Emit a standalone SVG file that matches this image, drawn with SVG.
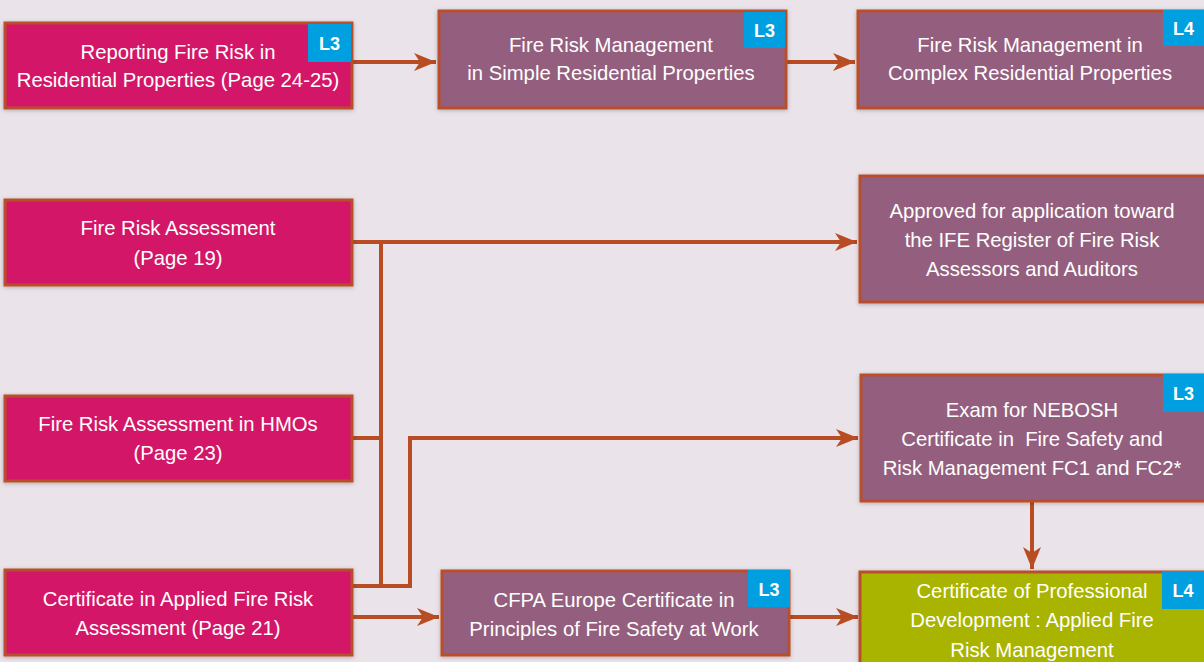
<svg xmlns="http://www.w3.org/2000/svg" width="1204" height="662" viewBox="0 0 1204 662">
<defs>
<style>
.box{stroke:#b9502a;stroke-width:3;filter:url(#sh)}
.mag{fill:#d41367}
.pur{fill:#945f7e}
.grn{fill:#a8b400}
.badge{fill:#009fe0}
.t{font-family:"Liberation Sans",Arial,sans-serif;font-size:20.3px;fill:#ffffff;text-anchor:middle}
.b{font-family:"Liberation Sans",Arial,sans-serif;font-size:18px;font-weight:bold;fill:#ffffff;text-anchor:middle}
.c{fill:none;stroke:#b84c22;stroke-width:4}
</style>
<filter id="sh" x="-5%" y="-5%" width="110%" height="115%">
<feDropShadow dx="0" dy="1" stdDeviation="2" flood-color="#000" flood-opacity="0.25"/>
</filter>
<marker id="ah" markerUnits="userSpaceOnUse" markerWidth="24" markerHeight="18" refX="22" refY="9" orient="auto">
<path d="M0,0 L22,9 L0,18 L6,9 Z" fill="#b84c22"/>
</marker>
</defs>
<rect width="1204" height="662" fill="#ebe3ea"/>

<g id="connectors">
<line class="c" x1="353" y1="62" x2="436" y2="62" marker-end="url(#ah)"/>
<line class="c" x1="786" y1="62" x2="855" y2="62" marker-end="url(#ah)"/>
<line class="c" x1="353" y1="242" x2="857" y2="242" marker-end="url(#ah)"/>
<line class="c" x1="381" y1="242" x2="381" y2="587"/>
<line class="c" x1="353" y1="438" x2="381" y2="438"/>
<polyline class="c" points="353,586 410,586 410,438 858,438" marker-end="url(#ah)"/>
<line class="c" x1="353" y1="617" x2="439" y2="617" marker-end="url(#ah)"/>
<line class="c" x1="790" y1="617" x2="858" y2="617" marker-end="url(#ah)"/>
<line class="c" x1="1032" y1="501" x2="1032" y2="569" marker-end="url(#ah)"/>
</g>

<g id="n1">
<rect class="box mag" x="5" y="23" width="347" height="85"/>
<rect class="badge" x="308" y="24" width="43" height="38"/>
<text class="b" x="329.5" y="50">L3</text>
<text class="t" x="178" y="59">Reporting Fire Risk in</text>
<text class="t" x="178" y="87">Residential Properties (Page 24-25)</text>
</g>

<g id="n2">
<rect class="box pur" x="439" y="11" width="347" height="97"/>
<rect class="badge" x="744" y="12" width="41" height="36"/>
<text class="b" x="764.5" y="37">L3</text>
<text class="t" x="611" y="52">Fire Risk Management</text>
<text class="t" x="611" y="80">in Simple Residential Properties</text>
</g>

<g id="n3">
<rect class="box pur" x="858" y="11" width="348" height="97"/>
<rect class="badge" x="1163" y="10" width="41" height="36"/>
<text class="b" x="1183.5" y="35">L4</text>
<text class="t" x="1030" y="52">Fire Risk Management in</text>
<text class="t" x="1030" y="80">Complex Residential Properties</text>
</g>

<g id="n4">
<rect class="box mag" x="5" y="200" width="347" height="85"/>
<text class="t" x="178" y="235">Fire Risk Assessment</text>
<text class="t" x="178" y="265">(Page 19)</text>
</g>

<g id="n5">
<rect class="box pur" x="860" y="176" width="346" height="126"/>
<text class="t" x="1032" y="218">Approved for application toward</text>
<text class="t" x="1032" y="247">the IFE Register of Fire Risk</text>
<text class="t" x="1032" y="276">Assessors and Auditors</text>
</g>

<g id="n6">
<rect class="box mag" x="5" y="396" width="347" height="85"/>
<text class="t" x="178" y="431">Fire Risk Assessment in HMOs</text>
<text class="t" x="178" y="460">(Page 23)</text>
</g>

<g id="n7">
<rect class="box pur" x="861" y="375" width="345" height="126"/>
<rect class="badge" x="1163" y="374" width="41" height="38"/>
<text class="b" x="1183.5" y="400">L3</text>
<text class="t" x="1032" y="417">Exam for NEBOSH</text>
<text class="t" x="1032" y="446" xml:space="preserve">Certificate in  Fire Safety and</text>
<text class="t" x="1032" y="475">Risk Management FC1 and FC2*</text>
</g>

<g id="n8">
<rect class="box mag" x="5" y="570" width="347" height="85"/>
<text class="t" x="178" y="606">Certificate in Applied Fire Risk</text>
<text class="t" x="178" y="635">Assessment (Page 21)</text>
</g>

<g id="n9">
<rect class="box pur" x="442" y="571" width="347" height="84"/>
<rect class="badge" x="748" y="570" width="42" height="37"/>
<text class="b" x="769" y="596">L3</text>
<text class="t" x="614" y="607">CFPA Europe Certificate in</text>
<text class="t" x="614" y="636">Principles of Fire Safety at Work</text>
</g>

<g id="n10">
<rect class="box grn" x="860" y="572" width="346" height="100"/>
<rect class="badge" x="1162" y="571" width="42" height="38"/>
<text class="b" x="1183" y="597">L4</text>
<text class="t" x="1032" y="598">Certificate of Professional</text>
<text class="t" x="1032" y="627">Development : Applied Fire</text>
<text class="t" x="1032" y="657">Risk Management</text>
</g>
</svg>
